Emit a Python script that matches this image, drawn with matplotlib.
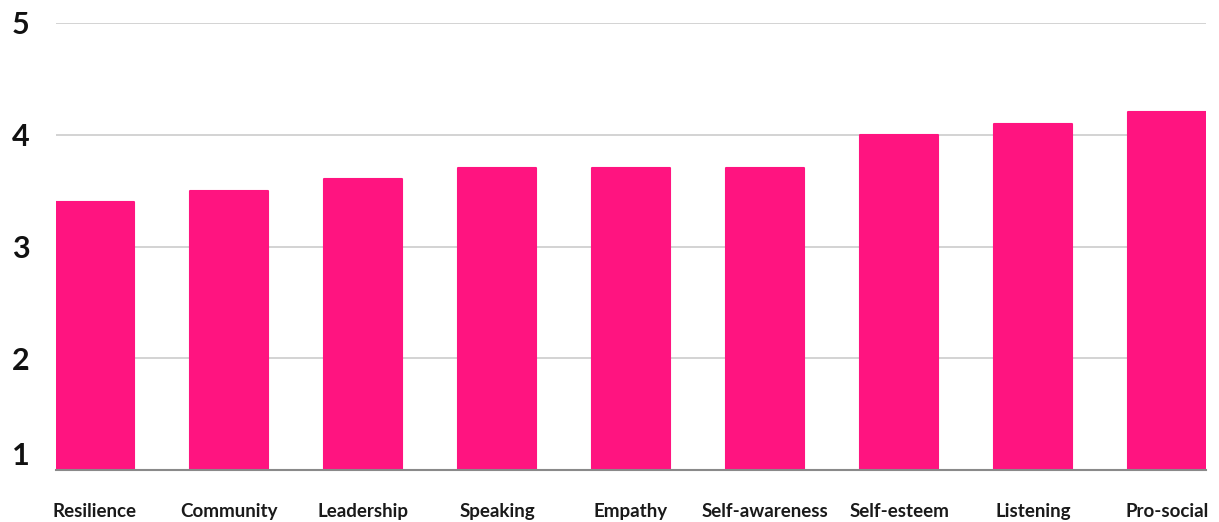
import matplotlib
matplotlib.use("Agg")
import matplotlib.pyplot as plt

# average score per skill
skills = ["Resilience", "Community", "Leadership", "Speaking", "Empathy",
          "Self-awareness", "Self-esteem", "Listening", "Pro-social"]
scores = [3.4, 3.5, 3.6, 3.7, 3.7, 3.7, 4.0, 4.1, 4.2]
y_ticks = [1, 2, 3, 4, 5]

plt.rcParams['font.family'] = ['Lato', 'DejaVu Sans']

fig = plt.figure(figsize=(12.19, 5.22), dpi=100)
ax = fig.add_axes([56 / 1219, 1 - 470 / 522, 1150 / 1219, 447 / 522])

pink = "#FF1480"
x = range(len(skills))
ax.bar(x, [s - 1 for s in scores], bottom=1, width=0.58, color=pink,
       edgecolor=pink, linewidth=1.5, joinstyle="round", zorder=3)

ax.set_xlim(-0.29, len(skills) - 0.71)
ax.set_ylim(1, 5)
ax.set_yticks(y_ticks)
ax.set_yticklabels([str(t) for t in y_ticks], fontsize=22, fontweight="bold",
                   color="#111111")
ax.get_yticklabels()[0].set_va("bottom")
ax.set_xticks(list(x))
ax.set_xticklabels(skills, fontsize=13.5, fontweight="bold", color="#1a1a1a")

ax.tick_params(axis="y", length=0, pad=19)
ax.tick_params(axis="x", length=0, pad=24)
ax.grid(axis="y", color="#cccccc", linewidth=1.2, zorder=0)

for side in ["top", "right", "left"]:
    ax.spines[side].set_visible(False)
ax.spines["bottom"].set_color("#8a8a8a")
ax.spines["bottom"].set_linewidth(1.5)
ax.spines["bottom"].set_zorder(4)

fig.savefig("out.png", dpi=100)
